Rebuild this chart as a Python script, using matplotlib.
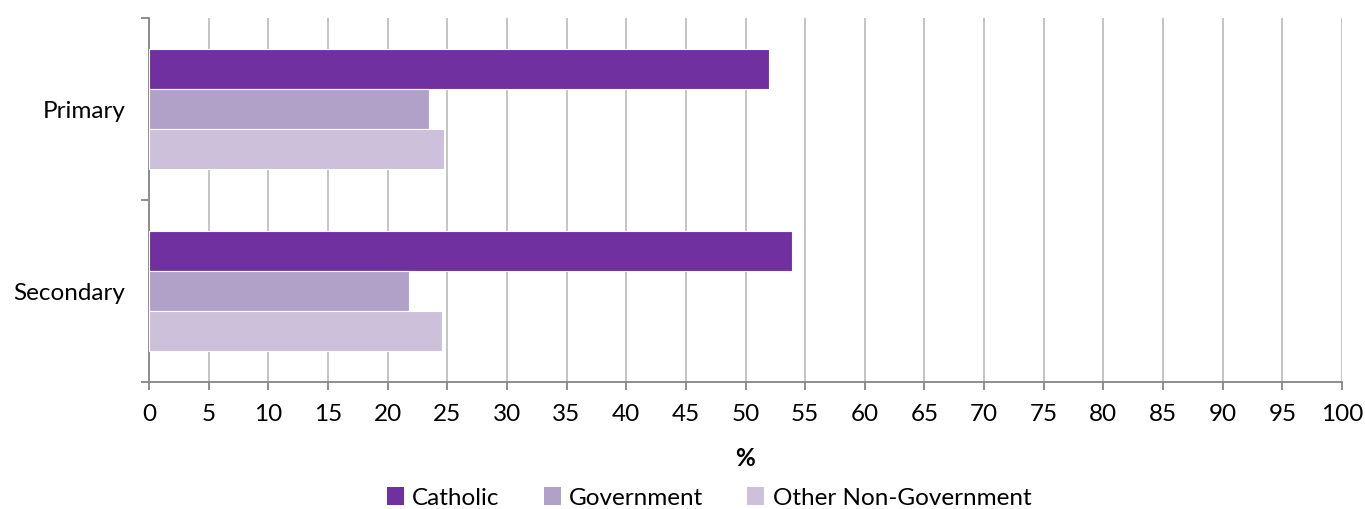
import numpy as np
import matplotlib.pyplot as plt
from matplotlib.patches import Patch

plt.rcParams['font.family'] = ['Lato', 'DejaVu Sans']

categories = ['Primary', 'Secondary']
series = ['Catholic', 'Government', 'Other Non-Government']
catholic = [52.0, 53.9]
government = [23.5, 21.8]
other_ng = [24.7, 24.6]
colors = ['#7030A0', '#B1A0C7', '#CCC0DA']
xticks = np.arange(0, 101, 5)

fig = plt.figure(figsize=(13.65, 5.09), dpi=100)
ax = fig.add_axes([149/1365, 127/509, 1193/1365, 364/509])

y = np.arange(len(categories))
h = 0.22
for i, (vals, c) in enumerate(zip([catholic, government, other_ng], colors)):
    ax.barh(y + (i - 1) * h, vals, height=h, color=c, edgecolor='white',
            linewidth=0.8, zorder=3)

fs = 17.5
ax.set_xlim(0, 100)
ax.set_ylim(1.5, -0.5)
ax.set_xticks(xticks)
ax.set_xticklabels([str(t) for t in xticks], fontsize=fs)
ax.xaxis.grid(True, color='#BFBFBF', linewidth=1.3, zorder=0)

ax.set_yticks([-0.5, 0.5, 1.5])
ax.set_yticklabels([])
ax.set_yticks(y, minor=True)
ax.set_yticklabels(categories, minor=True, fontsize=fs)
ax.tick_params(axis='y', which='minor', length=0, pad=17)
ax.tick_params(axis='both', which='major', length=6, width=1.3, color='#868686')
ax.tick_params(axis='x', pad=10)

for s in ['top', 'right']:
    ax.spines[s].set_visible(False)
for s in ['left', 'bottom']:
    ax.spines[s].set_color('#868686')
    ax.spines[s].set_linewidth(1.3)

ax.set_xlabel('%', fontsize=fs, fontweight='bold', labelpad=16)

handles = [Patch(facecolor=c, edgecolor='none') for c in colors]
fig.legend(handles, series, loc='center', bbox_to_anchor=(709/1365, 11/509),
           ncol=3, frameon=False, fontsize=fs, handlelength=0.7,
           handleheight=0.7, handletextpad=0.35, columnspacing=1.8)

fig.savefig('out.png', dpi=100)
